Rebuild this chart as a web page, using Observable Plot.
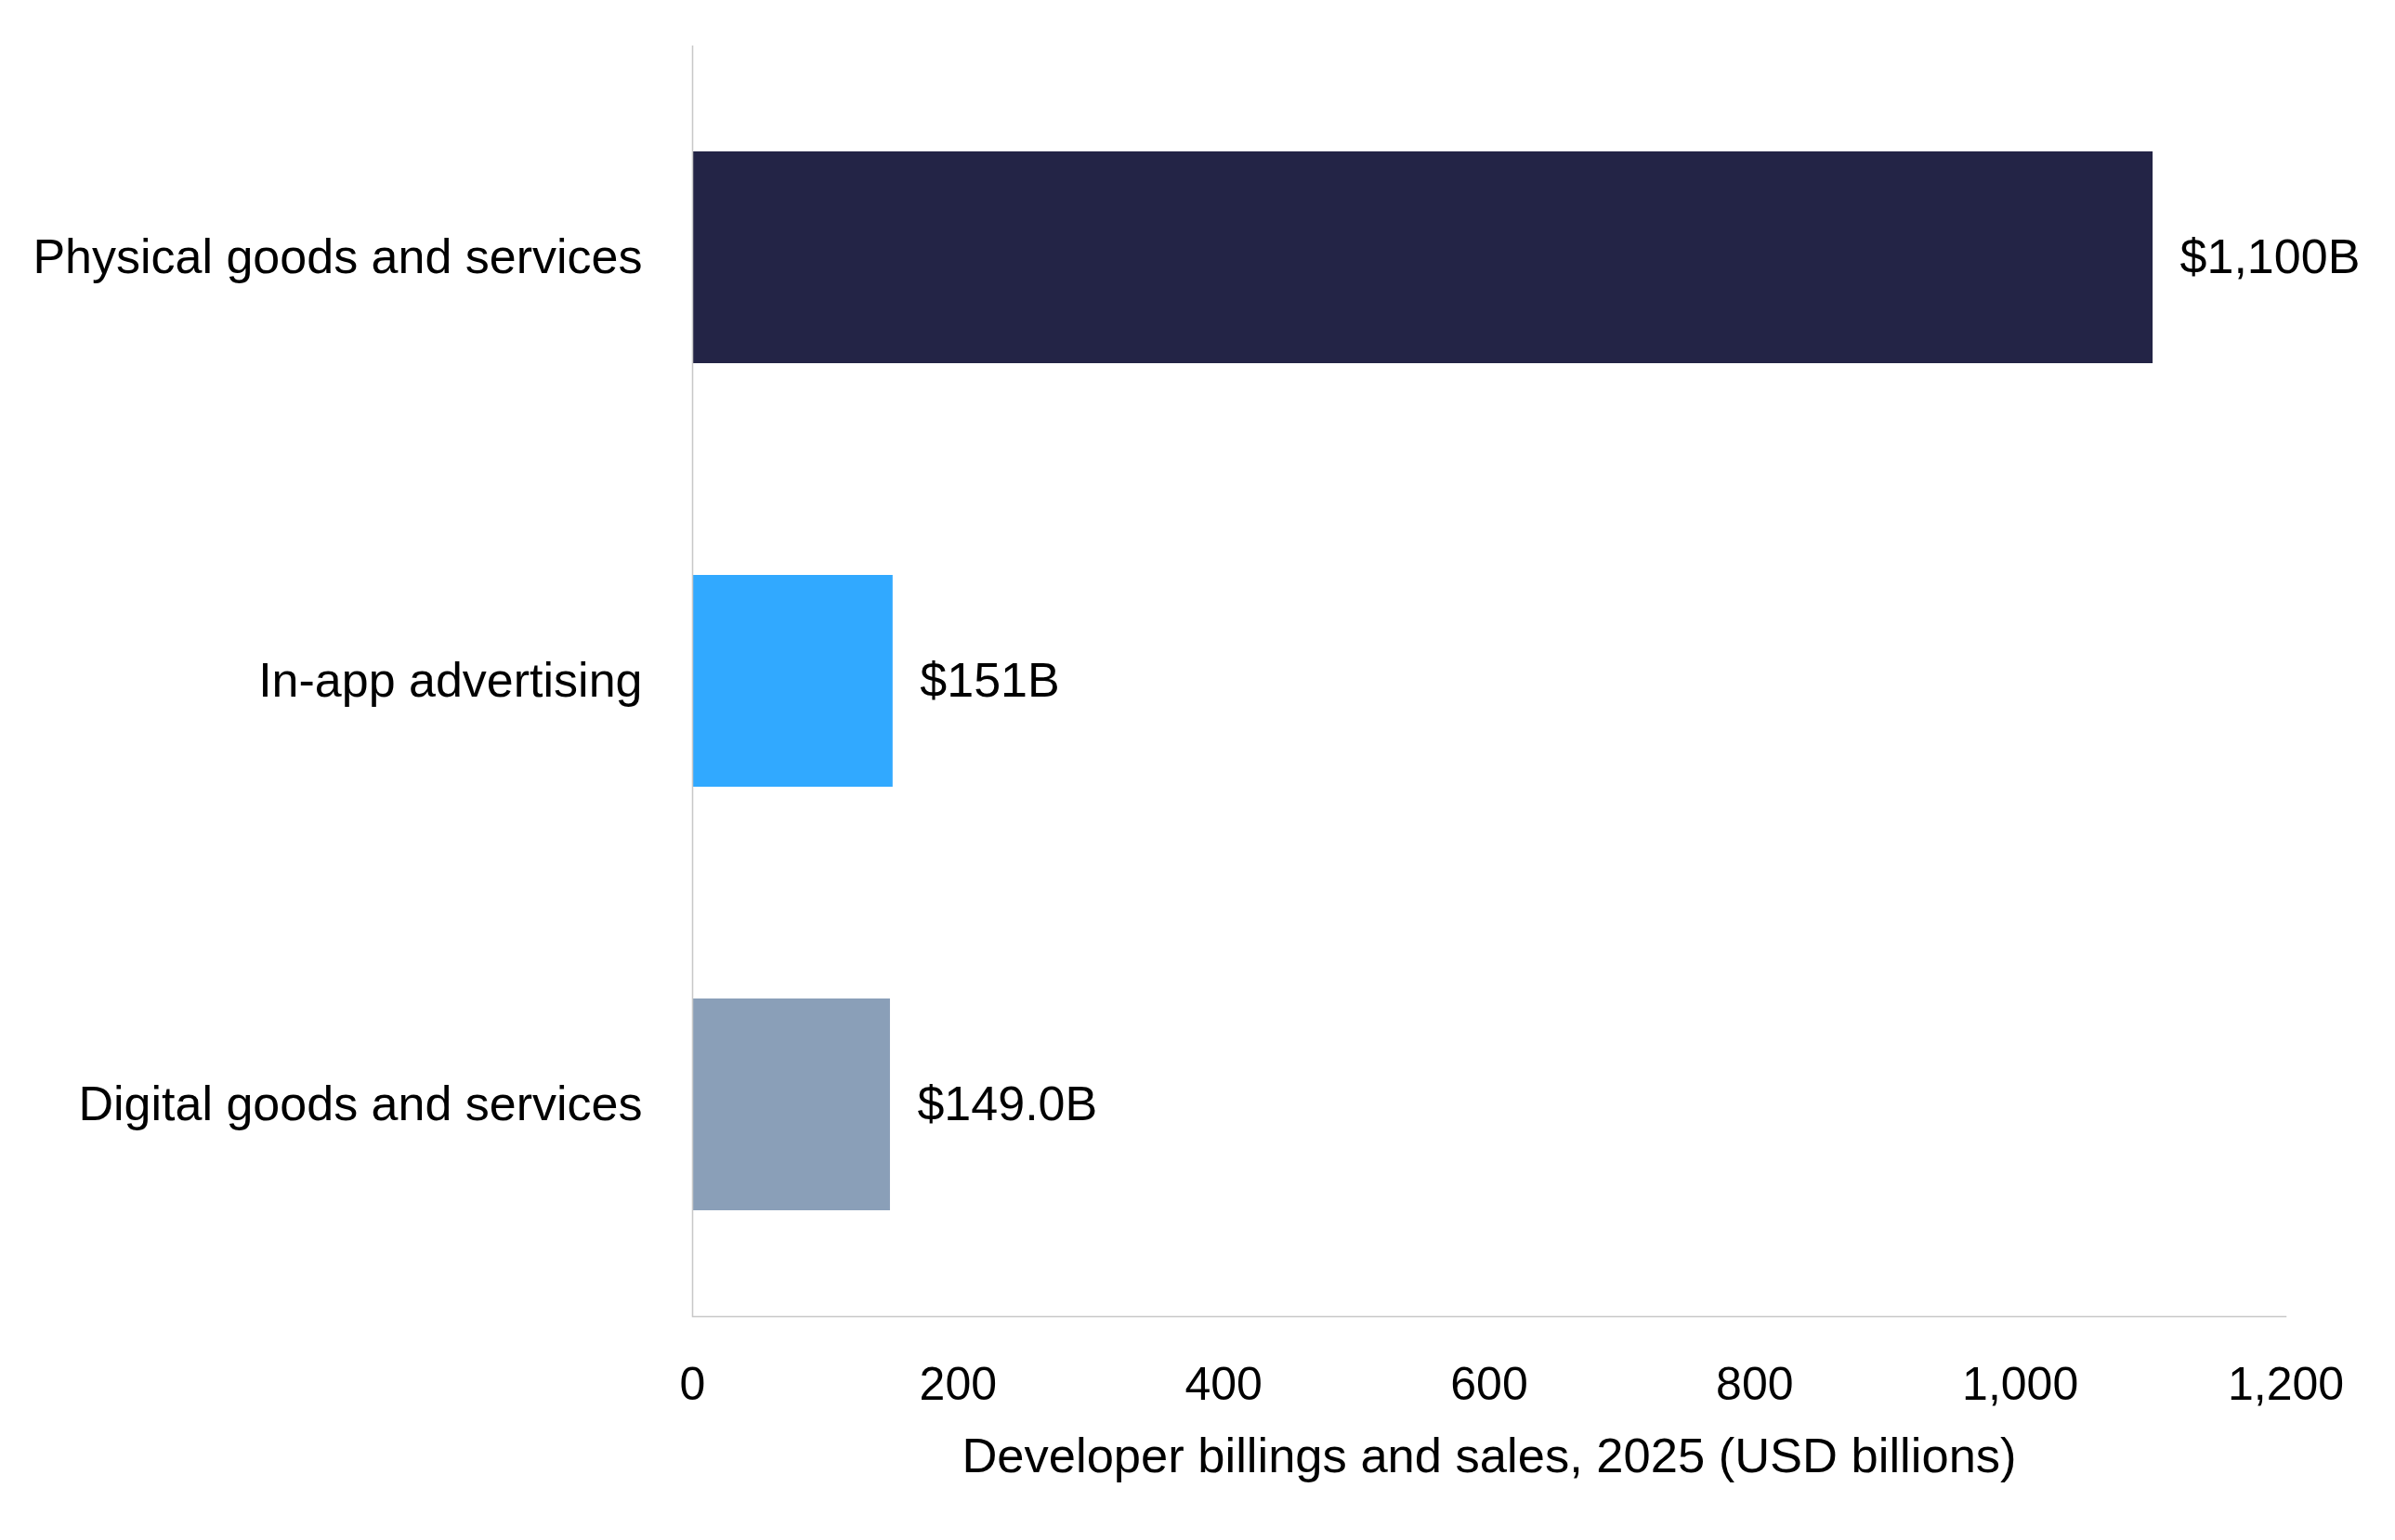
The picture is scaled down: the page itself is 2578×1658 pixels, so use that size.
<!DOCTYPE html>
<html>
<head>
<meta charset="utf-8">
<script src="https://cdn.jsdelivr.net/npm/d3@7"></script>
<script src="https://cdn.jsdelivr.net/npm/@observablehq/plot@0.6"></script>
<style>
  html, body { margin: 0; padding: 0; background: #fff; }
</style>
</head>
<body>
<div id="chart"></div>
<script>
const categories = ["Physical goods and services", "In-app advertising", "Digital goods and services"];
const values = [1100, 151, 149.0];
const valueLabels = ["$1,100B", "$151B", "$149.0B"];
const colors = ["#232446", "#31a9ff", "#8a9fb8"];
const xTicks = [0, 200, 400, 600, 800, 1000, 1200];
const xLabel = "Developer billings and sales, 2025 (USD billions)";

const data = categories.map((c, i) => ({category: c, value: values[i], label: valueLabels[i]}));

const chart = Plot.plot({
  width: 2578,
  height: 1658,
  marginLeft: 745,
  marginRight: 118,
  marginTop: 49,
  marginBottom: 241,
  style: {fontFamily: "'Liberation Sans', Arial, sans-serif", fontSize: "50px", color: "#000", background: "#fff"},
  x: {domain: [0, 1200]},
  y: {domain: categories, paddingInner: 0.5, paddingOuter: 0.25},
  color: {domain: categories, range: colors},
  marks: [
    Plot.barX(data, {x: "value", y: "category", fill: "category"}),
    Plot.ruleX([0], {stroke: "#c8c8c8", strokeWidth: 1.5}),
    Plot.frame({anchor: "bottom", stroke: "#c8c8c8", strokeWidth: 1.5}),
    Plot.axisY({tickSize: 0, tickPadding: 54, fontSize: 52, label: null}),
    Plot.axisX({ticks: xTicks, tickFormat: d3.format(","), tickSize: 0, tickPadding: 54, fontSize: 50, label: null}),
    Plot.text(data, {x: "value", y: "category", text: "label", dx: 29, textAnchor: "start", fontSize: 52, fill: "#000"}),
    Plot.text([xLabel], {frameAnchor: "bottom", text: d => d, dy: 167, fontSize: 52.5, fill: "#000"})
  ]
});
document.getElementById("chart").appendChild(chart);
</script>
</body>
</html>
